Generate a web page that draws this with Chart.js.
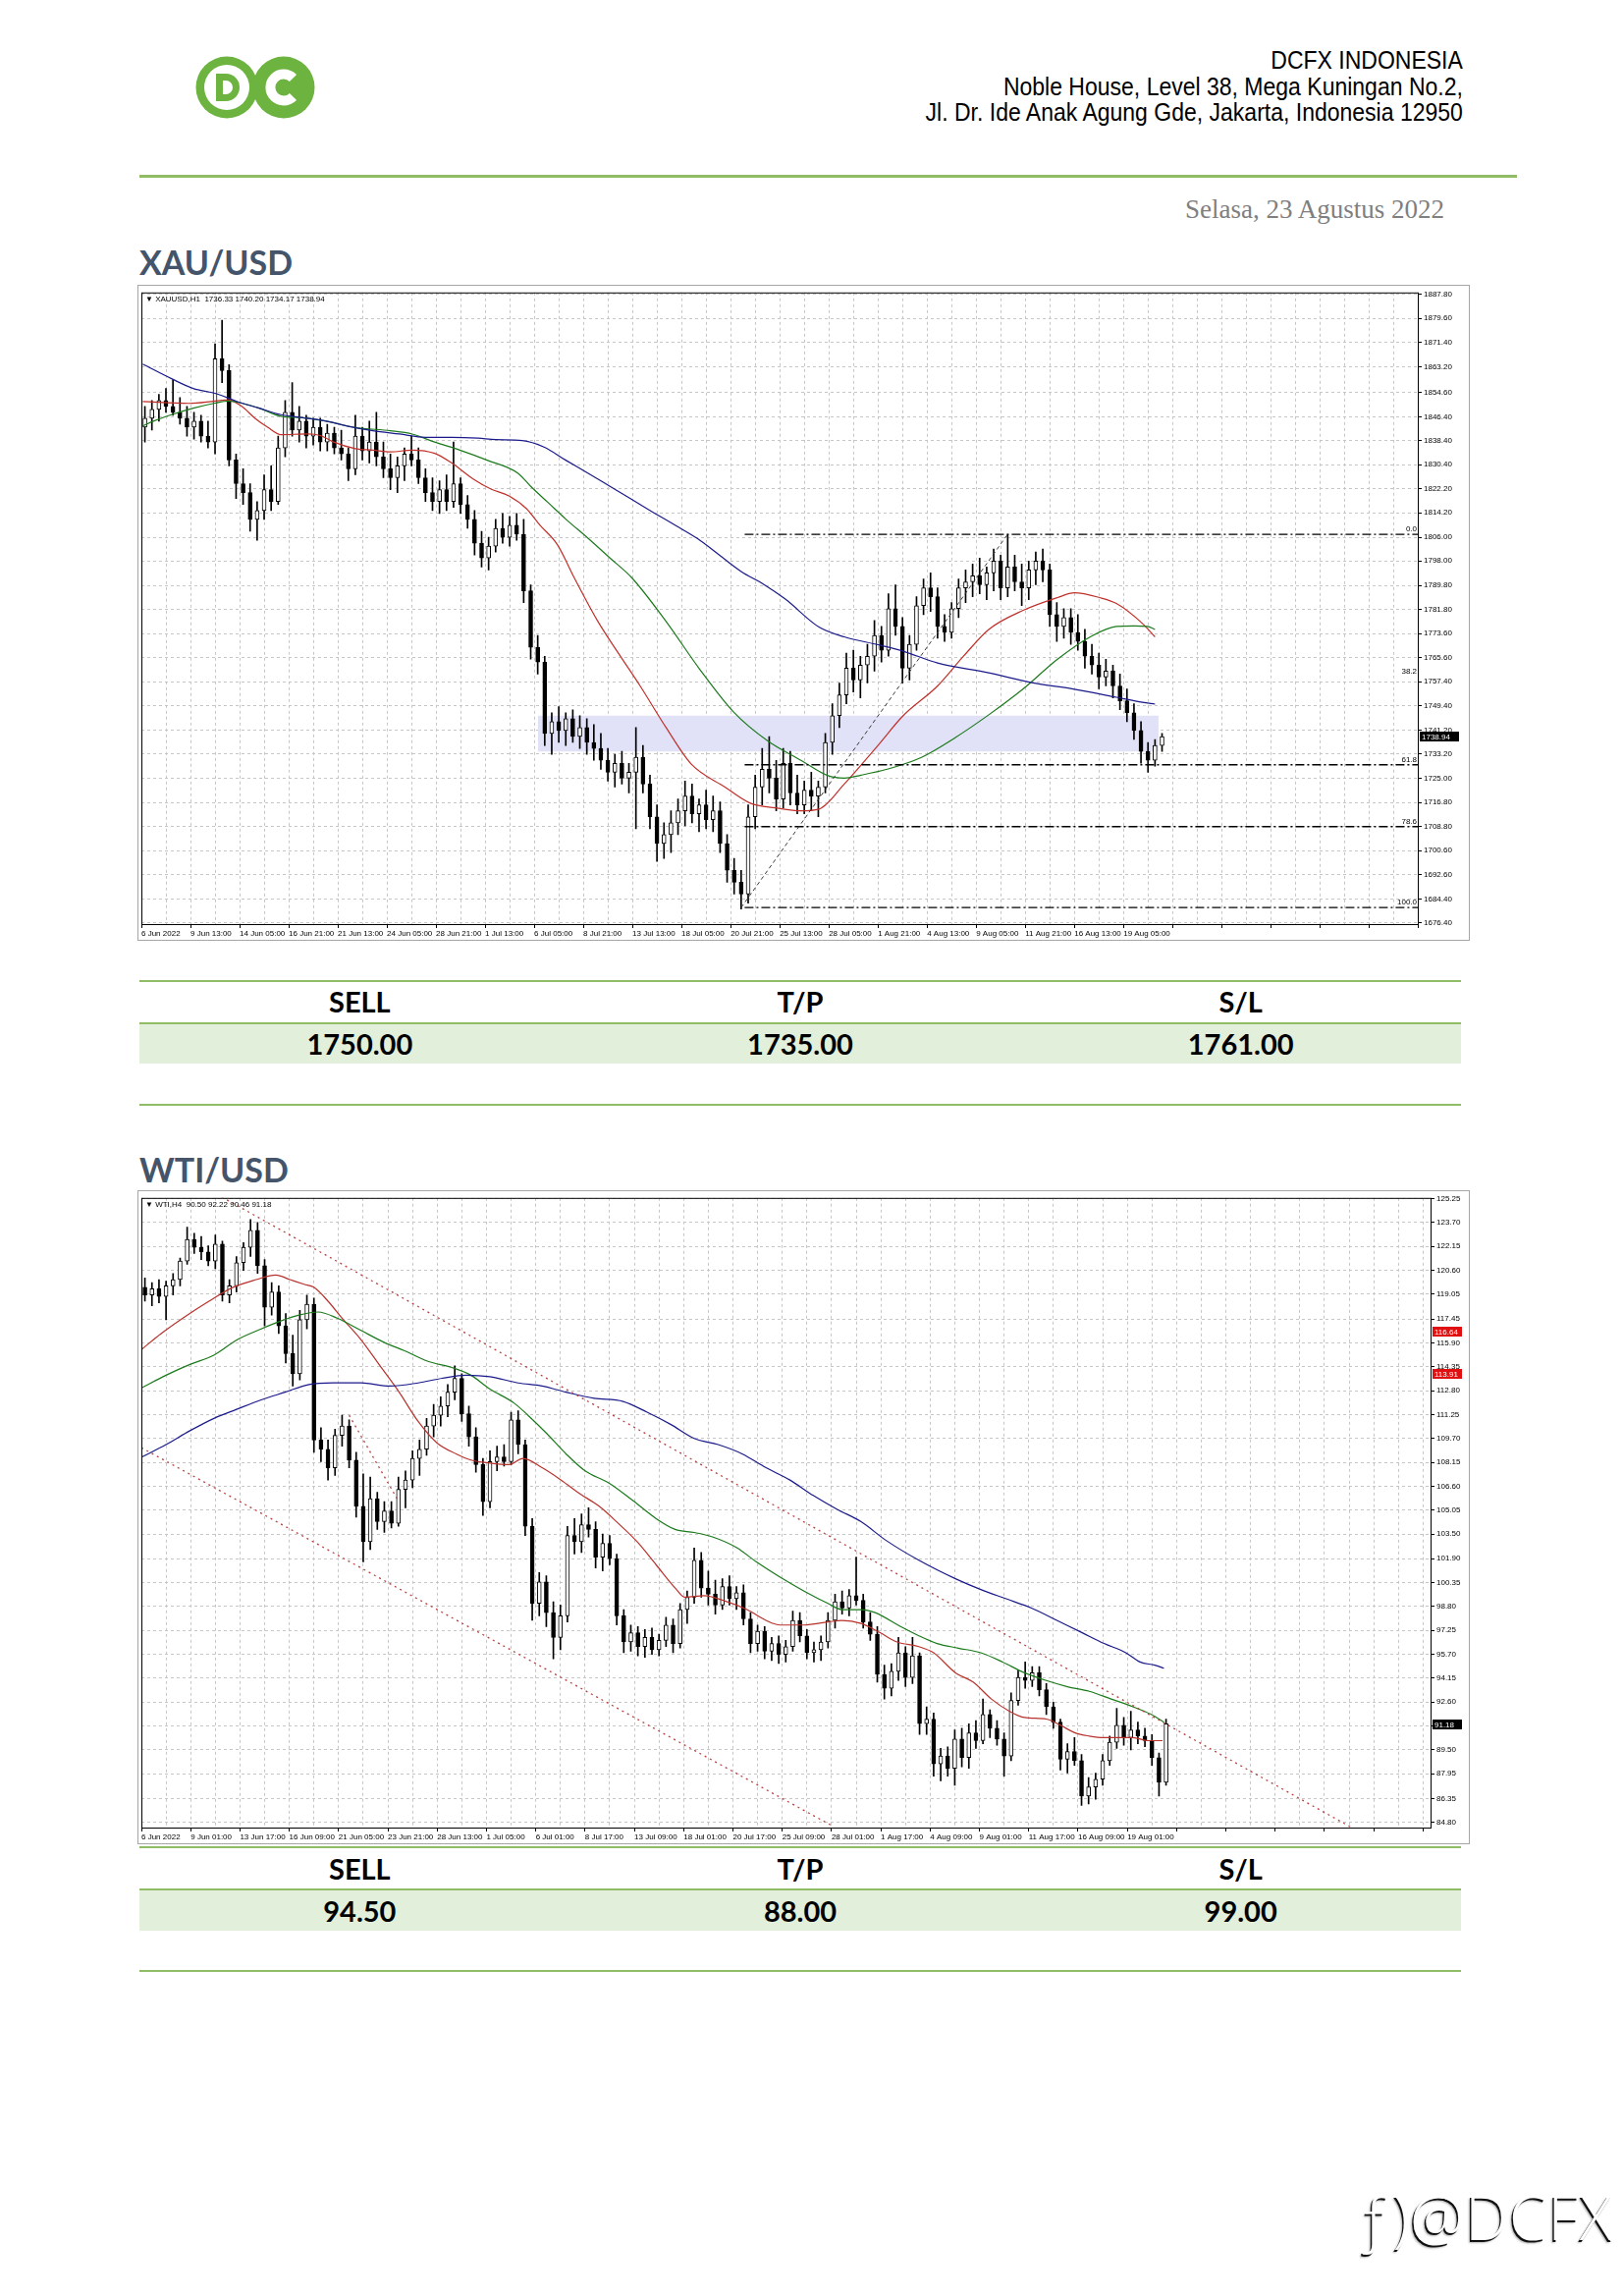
<!DOCTYPE html>
<html lang="id">
<head>
<meta charset="utf-8">
<title>DCFX - XAU/USD &amp; WTI/USD</title>
<script src="https://cdn.jsdelivr.net/npm/chart.js@4.4.1/dist/chart.umd.min.js"></script>
<style>
    html, body { margin: 0; padding: 0; background: #fff; }
    body { position: relative; width: 1653px; height: 2338px; overflow: hidden; font-family: "Liberation Sans", Arial, sans-serif; }
    .abs { position: absolute; }
    .company { right: 163px; top: 48px; text-align: right; font-family: "Liberation Sans Narrow", "Arial Narrow", "Liberation Sans", sans-serif; font-size: 25px; line-height: 26.5px; color: #000; transform: scaleX(0.92); transform-origin: right top; }
    .rule { left: 142px; width: 1403px; top: 178px; height: 3px; background: #8fbc64; }
    .date { right: 182px; top: 195px; font-family: "Liberation Serif", "Times New Roman", serif; font-size: 27px; line-height: 36px; color: #7f7f7f; }
    .pair { left: 142px; font-family: Lato, "Open Sans", sans-serif; font-weight: 700; font-size: 34px; line-height: 40px; color: #44546a; }
    .frame { box-sizing: border-box; border: 1px solid #a6a6a6; }
    .tline { left: 142px; width: 1346px; height: 2px; background: #8fbc64; }
    .tfill { left: 142px; width: 1346px; background: #e2efda; }
    .trow { left: 142px; width: 1346px; display: flex; font-family: Lato, "Open Sans", sans-serif; font-weight: 700; font-size: 29px; color: #000; }
    .trow div { flex: 1; text-align: center; }
    .social { right: 10px; top: 2222px; font-family: "Open Sans", "Liberation Sans", sans-serif; font-weight: 300; font-size: 62px; line-height: 70px; color: #fff; letter-spacing: 1px; text-shadow: -1.5px 1.5px 0 #111, -2.5px 2.5px 2px rgba(0,0,0,0.3); }
</style>
</head>
<body>

<!-- ===== EN-TETE ===== -->
<svg class="abs" style="left:198px; top:56px;" width="125" height="66" viewBox="0 0 125 66">
    <circle cx="33" cy="33" r="31.5" fill="#6cb33f"/>
    <circle cx="33" cy="33" r="23" fill="#fff"/>
    <path d="M22 19 h10 a14 14 0 0 1 0 28 h-10 z" fill="#6cb33f"/>
    <path d="M29 26 h3 a7 7 0 0 1 0 14 h-3 z" fill="#fff"/>
    <circle cx="91" cy="33" r="31.5" fill="#6cb33f"/>
    <path d="M100.5 23.5 A13.5 13.5 0 1 0 100.5 42.5" fill="none" stroke="#fff" stroke-width="10"/>
</svg>
<div class="abs company">DCFX INDONESIA<br>Noble House, Level 38, Mega Kuningan No.2,<br>Jl. Dr. Ide Anak Agung Gde, Jakarta, Indonesia 12950</div>
<div class="abs rule"></div>
<div class="abs date">Selasa, 23 Agustus 2022</div>

<!-- ===== XAU/USD ===== -->
<div class="abs pair" style="top:247px;">XAU/USD</div>
<div class="abs frame" style="left:140px; top:290px; width:1357px; height:668px;"></div>
<canvas id="xauChart" class="abs" width="1355" height="666" style="left:141px; top:291px;"></canvas>

<div class="abs tline" style="top:998px;"></div>
<div class="abs trow" style="top:999px; height:42px; line-height:42px;"><div>SELL</div><div>T/P</div><div>S/L</div></div>
<div class="abs tline" style="top:1041px;"></div>
<div class="abs tfill" style="top:1043px; height:40px;"></div>
<div class="abs trow" style="top:1043px; height:40px; line-height:40px;"><div>1750.00</div><div>1735.00</div><div>1761.00</div></div>
<div class="abs tline" style="top:1124px;"></div>

<!-- ===== WTI/USD ===== -->
<div class="abs pair" style="top:1171px;">WTI/USD</div>
<div class="abs frame" style="left:140px; top:1212px; width:1357px; height:666px;"></div>
<canvas id="wtiChart" class="abs" width="1355" height="664" style="left:141px; top:1213px;"></canvas>

<div class="abs tline" style="top:1880px;"></div>
<div class="abs trow" style="top:1882px; height:41px; line-height:41px;"><div>SELL</div><div>T/P</div><div>S/L</div></div>
<div class="abs tline" style="top:1923px;"></div>
<div class="abs tfill" style="top:1925px; height:41px;"></div>
<div class="abs trow" style="top:1925px; height:41px; line-height:41px;"><div>94.50</div><div>88.00</div><div>99.00</div></div>
<div class="abs tline" style="top:2006px;"></div>

<div class="abs social">ƒ)@DCFX</div>

<script>
'use strict';

// ============================================
// DONNEES XAU/USD (H1, une bougie = 8 barres)
// ============================================
const xauTimeLabels = ['6 Jun 2022', '9 Jun 13:00', '14 Jun 05:00', '16 Jun 21:00', '21 Jun 13:00', '24 Jun 05:00',
    '28 Jun 21:00', '1 Jul 13:00', '6 Jul 05:00', '8 Jul 21:00', '13 Jul 13:00', '18 Jul 05:00', '20 Jul 21:00',
    '25 Jul 13:00', '28 Jul 05:00', '1 Aug 21:00', '4 Aug 13:00', '9 Aug 05:00', '11 Aug 21:00', '16 Aug 13:00', '19 Aug 05:00'];
const xauPriceTicks = [1887.80, 1879.60, 1871.40, 1863.20, 1854.60, 1846.40, 1838.40, 1830.40, 1822.20, 1814.20,
    1806.00, 1798.00, 1789.80, 1781.80, 1773.60, 1765.60, 1757.40, 1749.40, 1741.20, 1733.20, 1725.00, 1716.80,
    1708.80, 1700.60, 1692.60, 1684.40, 1676.40];

const xauOpen = [1843,1846,1849,1852,1850,1848,1846,1843,1845,1840,
    1838,1866,1862,1832,1824,1821,1812,1815,1822,1818,
    1836,1848,1842,1845,1840,1843,1838,1841,1836,1834,
    1829,1840,1835,1838,1833,1829,1826,1830,1834,1832,
    1826,1821,1818,1822,1818,1824,1817,1812,1804,1799,
    1803,1809,1806,1810,1807,1788,1769,1764,1740,1744,
    1741,1745,1739,1742,1737,1735,1731,1727,1730,1725,
    1727,1732,1723,1712,1703,1706,1710,1714,1719,1713,
    1716,1711,1714,1703,1694,1690,1686,1712,1722,1728,
    1725,1718,1730,1720,1716,1721,1719,1722,1737,1746,
    1753,1762,1758,1763,1766,1773,1768,1782,1776,1762,
    1770,1783,1789,1786,1776,1774,1782,1789,1791,1793,
    1790,1794,1798,1789,1796,1791,1789,1795,1798,1795,
    1780,1776,1779,1774,1771,1766,1763,1759,1761,1756,
    1751,1747,1741,1734,1731,1736];
const xauHigh = [1850,1852,1854,1856,1859,1853,1850,1848,1847,1845,
    1871,1879,1864,1834,1829,1824,1818,1827,1830,1840,
    1852,1858,1850,1847,1846,1846,1844,1843,1842,1836,
    1847,1843,1845,1848,1838,1834,1833,1836,1840,1836,
    1829,1826,1825,1827,1838,1826,1820,1815,1808,1806,
    1812,1814,1813,1814,1812,1790,1773,1766,1747,1749,
    1747,1748,1746,1745,1743,1740,1735,1733,1734,1730,
    1742,1736,1726,1716,1710,1714,1718,1724,1723,1718,
    1721,1719,1717,1706,1698,1694,1716,1726,1735,1739,
    1731,1735,1734,1726,1724,1727,1724,1740,1750,1757,
    1767,1768,1766,1770,1778,1776,1787,1790,1779,1773,
    1786,1792,1794,1789,1780,1784,1792,1795,1797,1799,
    1796,1802,1800,1807,1800,1797,1798,1801,1802,1797,
    1784,1782,1782,1780,1775,1770,1767,1765,1763,1760,
    1755,1750,1744,1737,1738,1740];
const xauLow = [1838,1842,1845,1848,1847,1844,1840,1839,1838,1836,
    1834,1858,1830,1819,1817,1808,1805,1812,1815,1817,
    1833,1840,1838,1836,1837,1835,1835,1834,1832,1825,
    1827,1832,1831,1830,1826,1822,1821,1825,1830,1824,
    1818,1815,1814,1815,1816,1814,1809,1800,1796,1795,
    1801,1804,1803,1805,1784,1765,1760,1736,1733,1737,
    1736,1737,1735,1733,1731,1728,1724,1722,1723,1720,
    1708,1720,1708,1697,1698,1700,1706,1709,1710,1707,
    1708,1707,1700,1690,1686,1681,1683,1708,1716,1720,
    1714,1715,1716,1713,1713,1714,1712,1720,1733,1742,
    1750,1754,1752,1757,1761,1764,1766,1773,1757,1758,
    1768,1780,1781,1772,1771,1772,1779,1784,1786,1787,
    1785,1788,1785,1786,1788,1783,1785,1790,1791,1776,
    1771,1772,1770,1768,1762,1760,1755,1756,1752,1748,
    1744,1738,1730,1727,1729,1734];
const xauClose = [1846,1849,1852,1850,1848,1846,1843,1845,1840,1838,
    1866,1862,1832,1824,1821,1812,1815,1822,1818,1836,
    1848,1842,1845,1840,1843,1838,1841,1836,1834,1829,
    1840,1835,1838,1833,1829,1826,1830,1834,1832,1826,
    1821,1818,1822,1818,1824,1817,1812,1804,1799,1803,
    1809,1806,1810,1807,1788,1769,1764,1740,1744,1741,
    1745,1739,1742,1737,1735,1731,1727,1730,1725,1727,
    1732,1723,1712,1703,1706,1710,1714,1719,1713,1716,
    1711,1714,1703,1694,1690,1686,1712,1722,1728,1725,
    1718,1730,1720,1716,1721,1719,1722,1737,1746,1753,
    1762,1758,1763,1766,1773,1768,1782,1776,1762,1770,
    1783,1789,1786,1776,1774,1782,1789,1791,1793,1790,
    1794,1798,1789,1796,1791,1789,1795,1798,1795,1780,
    1776,1779,1774,1771,1766,1763,1759,1761,1756,1751,
    1747,1741,1734,1731,1736,1739];

// moyennes mobiles (x = rang de bougie)
const xauMaRedX = [0.2,6.8,10.5,12.4,14.3,16.2,18.0,19.9,23.7,25.5,27.4,30.5,33.0,35.5,38.6,41.8,44.2,47.4,49.9,52.4,
    54.9,56.8,59.3,61.7,65.0,68.0,71.1,74.8,78.4,83.2,86.8,90.4,94.1,96.6,100.2,105.0,108.6,113.5,117.2,120.8,
    125.7,130.6,133.0,136.6,139.0,142.7,144.5];
const xauMaRedY = [1851.6,1851,1851.8,1852.2,1850,1846,1843,1840.5,1840.7,1840.2,1838,1835.8,1835.3,1834.7,1835.3,
    1834.2,1831,1825.4,1822.1,1819.9,1815.6,1810.1,1803.5,1792.4,1778,1767,1756,1742,1729.7,1722,1716.6,1715,1714,
    1714.6,1723,1736,1746,1756,1766,1775,1781.4,1785.7,1787.3,1785.7,1783.7,1777,1772.5];
const xauMaGreenX = [0.2,1.8,4.3,7.4,10.5,12.4,14.3,16.8,19.9,23.0,26.2,30.5,35.5,38.6,41.8,45.5,49.3,53.7,55.5,58.0,
    60.5,63.7,66.8,69.9,74.7,79.6,84.4,89.3,94.1,97.8,100.2,102.6,106.3,111.2,116.0,120.8,125.7,130.6,135.4,139.0,
    141.5,143.4,144.5];
const xauMaGreenY = [1843.4,1845.1,1847.2,1849.4,1851.1,1851.8,1851.1,1849.4,1846.7,1846.2,1845.1,1842.9,1841.8,
    1840.7,1838,1835.2,1831.9,1827.5,1823.1,1817.6,1812.1,1805.6,1799,1792.4,1778,1761.6,1747.3,1737.5,1730.9,
    1725.9,1725,1726,1728,1732,1738.6,1746.3,1755,1765,1772.7,1776,1776.2,1776,1775];
const xauMaBlueX = [0.2,4.3,7.4,10.5,13.7,16.8,19.9,23.0,26.2,29.3,33.0,36.8,40.5,44.3,48.0,50.5,54.3,57.4,60.5,63.7,
    66.8,69.9,73.0,76.2,79.3,82.4,85.5,88.7,91.8,96.6,100.2,105.1,108.7,113.5,120.8,126.9,133.0,139.0,142.7,144.5];
const xauMaBlueY = [1864.2,1859.3,1856,1854.4,1851.6,1849.4,1847.2,1846.2,1845.1,1843.4,1841.8,1840.7,1839.6,1839.6,
    1839.3,1838.8,1838.5,1836.3,1831.9,1827.5,1823.1,1818.7,1814.3,1809.9,1805.5,1800,1794.5,1790.2,1785.2,1775.8,
    1772.5,1769.8,1767.6,1763.7,1760.4,1757.1,1754.9,1752.2,1750.5,1749.9];

// retracement de Fibonacci, zone et prix courant
const xauFibNames = ['0.0', '38.2', '61.8', '78.6', '100.0'];
const xauFibLevels = [1807.0, 1759.3, 1729.5, 1708.7, 1681.5];
const xauFibLines = ['0.0', '61.8', '78.6', '100.0'];
const xauFibStartX = 86;
const xauSwingX = [85.5, 123.5];
const xauSwingY = [1681.5, 1807.0];
const xauZoneX = [56.5, 145];
const xauZoneY = [1734, 1746];
const xauLast = 1738.94;

// ============================================
// DONNEES WTI (H4, une bougie = 2 barres)
// ============================================
const wtiTimeLabels = ['6 Jun 2022', '9 Jun 01:00', '13 Jun 17:00', '16 Jun 09:00', '21 Jun 05:00', '23 Jun 21:00',
    '28 Jun 13:00', '1 Jul 05:00', '6 Jul 01:00', '8 Jul 17:00', '13 Jul 09:00', '18 Jul 01:00', '20 Jul 17:00',
    '25 Jul 09:00', '28 Jul 01:00', '1 Aug 17:00', '4 Aug 09:00', '9 Aug 01:00', '11 Aug 17:00', '16 Aug 09:00', '19 Aug 01:00'];
const wtiPriceTicks = [125.25, 123.70, 122.15, 120.60, 119.05, 117.45, 115.90, 114.35, 112.80, 111.25, 109.70,
    108.15, 106.60, 105.05, 103.50, 101.90, 100.35, 98.80, 97.25, 95.70, 94.15, 92.60, 91.05, 89.50, 87.95, 86.35, 84.80];

const wtiOpen = [119.5,119.0,119.4,118.9,119.6,120.0,121.2,122.6,122.1,121.8,
    121.2,122.3,119.0,119.6,121.1,122.1,123.2,120.9,118.2,119.2,
    117.0,115.2,113.9,117.4,118.4,109.6,109.0,107.8,109.9,110.5,
    108.3,105.3,103.0,105.8,104.3,105.0,104.2,106.4,107.0,108.4,
    109.0,110.5,111.2,111.8,112.7,113.6,111.3,109.8,108.0,105.6,
    108.2,108.5,108.2,110.9,109.3,104.0,99.0,100.4,98.4,96.8,
    98.2,103.4,103.0,104.1,103.8,102.0,102.9,101.9,98.2,96.5,
    97.1,96.2,96.8,96.0,96.6,97.6,96.4,98.6,99.4,101.8,
    100.0,99.6,98.9,100.1,99.3,99.7,98.0,96.4,97.2,95.9,
    96.4,95.7,96.2,97.9,96.9,95.8,96.0,96.5,97.9,99.1,
    98.7,99.5,99.2,97.8,97.0,94.4,93.5,94.6,95.8,94.2,
    95.6,91.2,91.5,88.6,89.1,88.3,90.2,89.0,90.6,90.1,
    91.8,90.9,90.2,89.1,92.7,94.2,94.0,94.5,93.4,92.3,
    91.3,88.9,89.4,88.8,86.5,87.1,87.6,88.8,90.0,91.1,
    90.3,90.8,90.4,90.1,89.0,87.4];
const wtiHigh = [120.1,119.8,120.0,119.9,120.4,121.4,123.4,123.0,122.8,122.2,
    122.9,122.5,120.0,121.5,122.4,123.9,123.7,121.3,119.8,119.6,
    117.8,116.4,118.0,119.0,118.8,110.4,109.6,110.3,111.2,110.9,
    108.8,107.4,107.2,106.2,105.6,105.6,107.2,107.6,108.9,109.6,
    111.0,111.9,112.4,113.2,114.4,113.9,111.8,110.4,108.4,108.9,
    109.2,109.3,111.4,111.5,109.6,104.5,101.0,100.8,99.1,98.9,
    104.0,104.5,104.8,105.2,104.3,103.5,103.4,102.2,98.6,97.6,
    97.5,97.3,97.4,97.0,98.1,98.0,99.0,99.8,102.6,102.3,
    101.1,100.5,100.6,100.8,100.1,100.2,98.4,97.6,97.5,96.8,
    96.9,96.6,98.5,98.4,97.3,96.5,96.9,98.4,99.6,99.8,
    99.9,102.0,99.6,98.4,97.5,95.0,95.1,96.8,96.2,96.8,
    95.8,92.3,91.9,89.6,89.7,90.8,90.9,91.2,91.4,92.8,
    92.1,91.4,90.6,93.2,94.7,95.2,94.9,94.9,93.8,92.6,
    91.5,89.9,90.3,89.2,87.7,88.0,89.2,90.4,92.2,91.6,
    92.0,91.3,90.9,90.5,89.3,91.5];
const wtiLow = [118.6,118.3,118.5,117.4,119.0,119.6,121.0,121.7,121.3,120.9,
    120.7,118.6,118.5,119.2,120.6,121.5,120.4,117.0,117.7,116.5,
    114.6,113.1,113.5,116.8,108.8,108.2,107.0,107.3,109.2,107.8,
    104.6,101.7,102.5,103.8,103.6,103.9,104.0,105.2,106.5,107.3,
    108.6,109.8,110.5,111.1,112.2,110.8,109.2,107.5,104.7,105.2,
    107.6,107.9,108.0,108.7,103.4,97.9,98.2,97.5,95.4,96.0,
    97.8,102.2,102.3,103.3,101.3,101.1,101.5,97.6,95.8,95.9,
    95.6,95.5,95.7,95.6,96.2,95.8,96.1,97.7,99.0,99.4,
    98.9,98.3,98.6,98.9,98.6,97.6,95.8,95.9,95.4,95.3,
    95.1,95.2,95.9,96.5,95.4,95.2,95.3,96.1,97.4,98.3,
    98.2,98.9,97.4,96.6,93.9,92.8,93.0,94.0,93.6,93.8,
    90.5,90.5,87.8,87.5,87.8,87.2,88.4,88.3,89.6,89.9,
    90.3,89.8,87.8,88.8,92.4,93.5,93.6,93.0,91.8,90.9,
    88.2,88.0,88.5,85.9,86.0,86.3,87.2,88.5,89.6,89.8,
    89.5,89.9,89.7,88.5,86.5,87.2];
const wtiClose = [119.0,119.4,118.9,119.6,120.0,121.2,122.6,122.1,121.8,121.2,
    122.3,119.0,119.6,121.1,122.1,123.2,120.9,118.2,119.2,117.0,
    115.2,113.9,117.4,118.4,109.6,109.0,107.8,109.9,110.5,108.3,
    105.3,103.0,105.8,104.3,105.0,104.2,106.4,107.0,108.4,109.0,
    110.5,111.2,111.8,112.7,113.6,111.3,109.8,108.0,105.6,108.2,
    108.5,108.2,110.9,109.3,104.0,99.0,100.4,98.4,96.8,98.2,
    103.4,103.0,104.1,103.8,102.0,102.9,101.9,98.2,96.5,97.1,
    96.2,96.8,96.0,96.6,97.6,96.4,98.6,99.4,101.8,100.0,
    99.6,98.9,100.1,99.3,99.7,98.0,96.4,97.2,95.9,96.4,
    95.7,96.2,97.9,96.9,95.8,96.0,96.5,97.9,99.1,98.7,
    99.5,99.2,97.8,97.0,94.4,93.5,94.6,95.8,94.2,95.6,
    91.2,91.5,88.6,89.1,88.3,90.2,89.0,90.6,90.1,91.8,
    90.9,90.2,89.1,92.7,94.2,94.0,94.5,93.4,92.3,91.3,
    88.9,89.4,88.8,86.5,87.1,87.6,88.8,90.0,91.1,90.3,
    90.8,90.4,90.1,89.0,87.4,91.2];

const wtiMaRedX = [0.1,2.8,6.2,9.6,13.0,16.3,19.1,21.1,23.1,24.5,26.5,28.5,31.2,33.9,36.6,39.3,42.0,44.7,46.8,49.5,
    52.2,54.2,56.9,59.6,62.3,65.0,67.7,70.4,73.1,75.8,77.2,79.9,82.6,86.0,88.7,90.7,94.1,97.5,99.5,102.2,
    104.9,107.3,110.4,112.5,115.6,118.1,120.7,123.3,125.4,128.5,130.5,132.6,134.6,136.7,140.8,142.9,145.0];
const wtiMaRedY = [115.5,116.5,117.6,118.6,119.5,120.0,120.3,120.0,119.7,119.5,118.6,117.5,116.1,114.4,112.7,110.8,
    109.4,108.7,108.3,108.1,108.0,108.4,107.8,107.0,106.1,105.3,104.2,103.0,101.5,100.0,99.4,99.5,99.2,98.6,97.9,
    97.6,97.6,97.8,97.9,97.7,97.1,96.5,96.2,95.8,94.5,93.9,92.8,92.0,91.6,91.5,91.1,90.6,90.4,90.3,90.3,90.1,90.1];
const wtiMaGreenX = [0.1,3.5,6.9,10.3,13.6,17.0,19.7,22.4,25.1,27.8,31.2,34.6,37.3,40.7,44.1,46.8,49.5,52.9,54.9,57.6,
    60.3,63.0,66.4,69.7,73.1,75.8,78.5,81.2,84.6,87.3,90.7,94.1,97.5,99.5,102.2,104.2,107.8,110.4,113.0,116.0,
    119.2,122.3,125.4,128.5,131.5,134.6,137.7,140.8,143.4,145.2];
const wtiMaGreenY = [113.0,113.8,114.5,115.1,116.1,116.8,117.3,117.7,117.9,117.5,116.7,115.9,115.4,114.7,114.3,113.8,
    112.9,112.0,111.2,110.0,108.7,107.6,106.8,105.7,104.5,103.8,103.6,103.3,102.6,101.7,100.7,99.8,99.0,98.6,98.6,
    98.4,97.5,96.9,96.4,96.1,95.8,95.2,94.5,94.0,93.6,93.3,92.8,92.3,91.8,91.3];
const wtiMaBlueX = [0.1,3.5,6.9,10.3,13.6,17.0,20.4,23.8,27.2,31.2,35.3,39.3,42.7,46.1,49.5,53.5,56.9,60.3,64.3,68.4,
    71.8,75.2,78.5,81.9,85.3,88.7,92.1,95.4,98.8,102.2,105.7,110.4,115.6,119.2,122.8,126.4,130.0,133.6,136.7,139.8,
    141.8,143.9,145.2];
const wtiMaBlueY = [108.5,109.3,110.2,111.0,111.6,112.2,112.7,113.2,113.3,113.3,113.1,113.3,113.6,113.8,113.7,113.3,
    113.1,112.7,112.3,112.1,111.4,110.6,109.7,109.3,108.7,107.8,107.0,106.0,105.1,104.3,103.1,101.8,100.6,99.9,99.3,
    98.7,97.9,97.1,96.4,95.8,95.2,95.0,94.8];

// canal baissier (lignes pointillees rouges)
const wtiUpperX = [8.5, 171.7];
const wtiUpperY = [126.1, 84.5];
const wtiLowerX = [0, 98];
const wtiLowerY = [109.1, 84.6];
const wtiShortX = [29.5, 36.3];
const wtiShortY = [111.2, 105.8];
const wtiMarks = [116.64, 113.91];
const wtiLast = 91.18;

// ============================================
// OUTILS GRAPHIQUES
// ============================================
const AXIS_FONT = '"Liberation Sans", Arial, sans-serif';

// cadre, titre MT4, libelles Fibo, etiquettes de prix
const mt4Extras = {
    id: 'mt4Extras',
    afterDraw: function(chart, args, opts) {
        const ctx = chart.ctx;
        const a = chart.chartArea;
        const y = chart.scales.y;
        ctx.save();
        ctx.strokeStyle = '#000';
        ctx.lineWidth = 1;
        ctx.strokeRect(a.left + 0.5, a.top + 0.5, a.right - a.left - 1, a.bottom - a.top - 1);

        ctx.font = '8px ' + AXIS_FONT;
        ctx.fillStyle = '#000';
        ctx.textAlign = 'left';
        ctx.textBaseline = 'top';
        ctx.fillText('\u25BC ' + opts.title, a.left + 4, a.top + 3);

        (opts.levelNames || []).forEach(function(name, k) {
            const py = y.getPixelForValue(opts.levels[k]);
            ctx.textAlign = 'right';
            ctx.textBaseline = 'bottom';
            ctx.fillStyle = '#000';
            ctx.fillText(name, a.right - 2, py - 1);
        });

        (opts.boxes || []).forEach(function(b) {
            const py = Math.round(y.getPixelForValue(b.value));
            ctx.fillStyle = b.color;
            ctx.fillRect(a.right + 1, py - 5, opts.boxWidth, 10);
            ctx.fillStyle = '#fff';
            ctx.textAlign = 'left';
            ctx.textBaseline = 'middle';
            ctx.fillText(b.value.toFixed(2), a.right + 3, py + 0.5);
        });
        ctx.restore();
    }
};

function candleDatasets(o, h, l, c) {
    const wicks = [], bodies = [], fills = [];
    for (let i = 0; i < o.length; i++) {
        wicks.push({ x: i + 0.5, y: [l[i], h[i]] });
        bodies.push({ x: i + 0.5, y: [o[i], c[i]] });
        fills.push(c[i] >= o[i] ? '#ffffff' : '#000000');
    }
    return [
        { type: 'bar', data: wicks, backgroundColor: '#000', barThickness: 1, grouped: false, order: 6 },
        { type: 'bar', data: bodies, backgroundColor: fills, borderColor: '#000', borderWidth: 1,
          borderSkipped: false, barThickness: 4, minBarLength: 1, grouped: false, order: 5 }
    ];
}

function lineDataset(xs, ys, color, extra) {
    const pts = xs.map(function(x, i) { return { x: x, y: ys[i] }; });
    return Object.assign({
        type: 'line', data: pts, borderColor: color, borderWidth: 1.2, pointRadius: 0,
        fill: false, cubicInterpolationMode: 'monotone', order: 2
    }, extra || {});
}

function buildChart(cfg) {
    const xTicks = [];
    for (let v = 0; v <= cfg.xMax; v += 3.5) xTicks.push({ value: v });

    new Chart(document.getElementById(cfg.canvas), {
        type: 'bar',
        data: { datasets: cfg.datasets },
        options: {
            responsive: false,
            animation: false,
            devicePixelRatio: 1,
            events: [],
            layout: { padding: { left: 3, top: 3, right: 0, bottom: 0 } },
            plugins: {
                legend: { display: false },
                tooltip: { enabled: false },
                mt4Extras: cfg.extras
            },
            scales: {
                x: {
                    type: 'linear', min: 0, max: cfg.xMax, offset: false,
                    grid: {
                        offset: false, color: '#c6c6c6', tickLength: 3,
                        tickColor: function(c) { return c.index % 2 ? 'rgba(0,0,0,0)' : '#000'; }
                    },
                    border: { display: false, dash: [3, 3] },
                    ticks: {
                        autoSkip: false, maxRotation: 0, minRotation: 0, align: 'start', padding: 1,
                        color: '#000', font: { size: 8, family: AXIS_FONT },
                        callback: function(v, i) { return i % 2 ? '' : (cfg.times[i / 2] || ''); }
                    },
                    afterBuildTicks: function(s) { s.ticks = xTicks.slice(); },
                    afterFit: function(s) { s.height = cfg.xAxisH; }
                },
                y: {
                    type: 'linear', position: 'right', min: cfg.yMin, max: cfg.yMax, beginAtZero: false,
                    grid: { color: '#c6c6c6', tickLength: 3, tickColor: '#000' },
                    border: { display: false, dash: [3, 3] },
                    ticks: {
                        autoSkip: false, padding: 2, color: '#000', font: { size: 8, family: AXIS_FONT },
                        callback: function(v) { return Number(v).toFixed(2); }
                    },
                    afterBuildTicks: function(s) { s.ticks = cfg.yTicks.map(function(v) { return { value: v }; }); },
                    afterFit: function(s) { s.width = cfg.yAxisW; }
                }
            }
        },
        plugins: [mt4Extras]
    });
}

document.addEventListener('DOMContentLoaded', function() {

    // ===== XAU/USD =====
    const xauMax = 182.1;
    const xauSets = [
        lineDataset(xauZoneX, [xauZoneY[1], xauZoneY[1]], 'rgba(0,0,0,0)',
            { fill: { value: xauZoneY[0] }, backgroundColor: '#e1e1f7', borderWidth: 0, cubicInterpolationMode: 'default', order: 10 })
    ].concat(candleDatasets(xauOpen, xauHigh, xauLow, xauClose));
    xauSets.push(lineDataset(xauMaBlueX, xauMaBlueY, '#1a1a8c'));
    xauSets.push(lineDataset(xauMaGreenX, xauMaGreenY, '#1b7a1b'));
    xauSets.push(lineDataset(xauMaRedX, xauMaRedY, '#c0302a'));
    xauSets.push(lineDataset(xauSwingX, xauSwingY, '#3a3a3a',
        { borderDash: [4, 3], borderWidth: 1, cubicInterpolationMode: 'default', order: 1 }));
    xauFibNames.forEach(function(name, k) {
        if (xauFibLines.indexOf(name) === -1) return;
        xauSets.push(lineDataset([xauFibStartX, xauMax], [xauFibLevels[k], xauFibLevels[k]], '#000',
            { borderDash: [9, 3, 2, 3], borderWidth: 1.3, cubicInterpolationMode: 'default', order: 1 }));
    });

    buildChart({
        canvas: 'xauChart', datasets: xauSets, times: xauTimeLabels, yTicks: xauPriceTicks,
        yMin: 1675.6, yMax: 1888.3, xMax: xauMax, yAxisW: 51, xAxisH: 15,
        extras: {
            title: 'XAUUSD,H1  1736.33 1740.20 1734.17 1738.94',
            levelNames: xauFibNames, levels: xauFibLevels,
            boxes: [{ value: xauLast, color: '#000' }], boxWidth: 40
        }
    });

    // ===== WTI/USD =====
    const wtiMax = 183.2;
    const wtiSets = candleDatasets(wtiOpen, wtiHigh, wtiLow, wtiClose);
    wtiSets.push(lineDataset(wtiMaBlueX, wtiMaBlueY, '#1a1a8c'));
    wtiSets.push(lineDataset(wtiMaGreenX, wtiMaGreenY, '#1b7a1b'));
    wtiSets.push(lineDataset(wtiMaRedX, wtiMaRedY, '#b8322c'));
    [[wtiUpperX, wtiUpperY], [wtiLowerX, wtiLowerY], [wtiShortX, wtiShortY]].forEach(function(seg) {
        wtiSets.push(lineDataset(seg[0], seg[1], '#b84040',
            { borderDash: [2, 4], borderWidth: 1.3, cubicInterpolationMode: 'default', order: 1 }));
    });

    buildChart({
        canvas: 'wtiChart', datasets: wtiSets, times: wtiTimeLabels, yTicks: wtiPriceTicks,
        yMin: 84.4, yMax: 125.3, xMax: wtiMax, yAxisW: 38, xAxisH: 15,
        extras: {
            title: 'WTI,H4  90.50 92.22 90.46 91.18',
            boxes: [{ value: wtiMarks[0], color: '#e01010' }, { value: wtiMarks[1], color: '#e01010' },
                    { value: wtiLast, color: '#000' }],
            boxWidth: 30
        }
    });
});
</script>
</body>
</html>
